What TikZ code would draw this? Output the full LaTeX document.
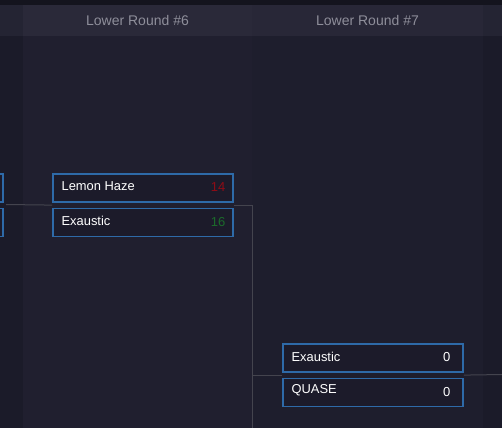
\documentclass[tikz,border=0pt]{standalone}
\usepackage{fontspec}
\setmainfont{Liberation Sans}
\usepackage{xcolor}
\usetikzlibrary{positioning,fit,calc}

\definecolor{topbar}{HTML}{14141E}
\definecolor{headout}{HTML}{242433}
\definecolor{headsix}{HTML}{2A2939}
\definecolor{headseven}{HTML}{282737}
\definecolor{bodyout}{HTML}{1B1B29}
\definecolor{bodysix}{HTML}{201F2F}
\definecolor{bodyseven}{HTML}{1E1E2D}
\definecolor{boxfill}{HTML}{1C1B2A}
\definecolor{boxblue}{HTML}{2E6AA8}
\definecolor{linkgray}{HTML}{44444E}
\definecolor{headtext}{HTML}{8E8E9A}
\definecolor{losered}{HTML}{8E0C16}
\definecolor{wingreen}{HTML}{1B6B2A}

\tikzset{
  team/.style={rectangle,draw=boxblue,fill=boxfill,line width=1.2pt,minimum width=180pt,minimum height=28pt,inner sep=0pt},
  teamname/.style={text=white,font=\fontsize{12.9}{14}\selectfont,inner sep=0pt,yshift=1.5pt},
  score/.style={font=\fontsize{13}{14}\selectfont,inner sep=0pt,yshift=0.5pt},
  roundhead/.style={text=headtext,font=\fontsize{14}{16}\selectfont,inner sep=0pt},
  link/.style={draw=linkgray,line width=1pt}
}

\begin{document}
\begin{tikzpicture}[x=1pt,y=-1pt,node distance=5pt]
\useasboundingbox (0,0) rectangle (502,428);
% backgrounds
\fill[bodyout] (0,0) rectangle (502,428);
\fill[bodysix] (23,36) rectangle (252,428);
\fill[bodyseven] (252,36) rectangle (483,428);
\fill[headout] (0,5) rectangle (502,36);
\fill[headsix] (23,5) rectangle (252,36);
\fill[headseven] (252,5) rectangle (483,36);
\fill[topbar] (0,0) rectangle (502,5);

\node[roundhead] (head6) at (137.5,20.5) {Lower Round \#6};
\node[roundhead] (head7) at (367.5,20.5) {Lower Round \#7};

% previous round, cut off at the left
\begin{scope}
\clip (0,0) rectangle (502,428);
\node[team] (prevtop) at (-87,188) {};
\node[team,below=of prevtop] (prevbot) {};
\end{scope}

% round 6
\node[team] (lemon) at (143,188) {};
\node[team,below=of lemon] (exasix) {};
\node[teamname,anchor=west] (lemonname) at ($(lemon.west)+(9,0)$) {Lemon Haze};
\node[score,anchor=east,text=losered] (lemonscore) at ($(lemon.east)+(-8,0)$) {14};
\node[teamname,anchor=west] (exasixname) at ($(exasix.west)+(9,0)$) {Exaustic};
\node[score,anchor=east,text=wingreen] (exasixscore) at ($(exasix.east)+(-8,0)$) {16};
\node[fit=(lemon)(exasix),inner sep=0pt] (matchsix) {};

% round 7
\node[team] (exaseven) at (373,358) {};
\node[team,below=of exaseven] (quase) {};
\node[teamname,anchor=west] (exasevenname) at ($(exaseven.west)+(9,0)$) {Exaustic};
\node[score,anchor=east,text=white] (exasevenscore) at ($(exaseven.east)+(-13,0)$) {0};
\node[teamname,anchor=west] (quasename) at ($(quase.west)+(9,0)$) {QUASE};
\node[score,anchor=east,text=white] (quasescore) at ($(quase.east)+(-13,0)$) {0};
\node[fit=(exaseven)(quase),inner sep=0pt] (matchseven) {};

% connectors
\coordinate (fromprev) at (6,204.5);
\coordinate (downsix) at (252,428);
\coordinate (tonext) at (502,374.5);
\draw[link] (fromprev) -- (matchsix.west);
\draw[link] (matchsix.east) -| (downsix);
\draw[link] (matchseven.west) -- (matchseven.west -| downsix);
\draw[link] (matchseven.east) -- (tonext);
\end{tikzpicture}
\end{document}
